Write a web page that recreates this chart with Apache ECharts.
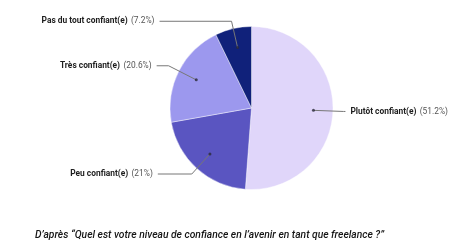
<!DOCTYPE html>
<html>
<head>
<meta charset="utf-8">
<script src="https://cdn.jsdelivr.net/npm/echarts@6/dist/echarts.min.js"></script>
<style>
html,body{margin:0;padding:0;background:#fff;}
#chart{width:460px;height:251px;}
</style>
</head>
<body>
<div id="chart"></div>
<script>
// Data
var categories = ['Plutôt confiant(e)', 'Peu confiant(e)', 'Très confiant(e)', 'Pas du tout confiant(e)'];
var values = [51.2, 21, 20.6, 7.2];
var colors = ['#e0d6fa', '#5a55c1', '#9c98ee', '#10217a'];
var caption = 'D\u2019après \u201CQuel est votre niveau de confiance en l\u2019avenir en tant que freelance ?\u201D';

// label line geometry (style only)
var lineLen1 = [30, 27, 31, 27];
var lineLen2 = [2, 34, 12, 72];

var CX = 251.5, CY = 108, R = 81.5, RDOT = 62;

var total = values.reduce(function (a, b) { return a + b; }, 0);
var cum = 0;
var dotData = values.map(function (v) {
  var mid = cum + v / 2;
  cum += v;
  return [RDOT, mid / total * 100];
});

var chart = echarts.init(document.getElementById('chart'), null, {renderer: 'canvas'});
chart.setOption({
  animation: false,
  backgroundColor: '#ffffff',
  title: {
    text: caption,
    left: 30,
    top: 225,
    textStyle: {fontFamily: 'Roboto', fontSize: 10.3, fontStyle: 'italic', fontWeight: 500, color: '#161616'}
  },
  polar: {center: [CX, CY], radius: R},
  angleAxis: {type: 'value', min: 0, max: 100, startAngle: 90, clockwise: true, show: false},
  radiusAxis: {type: 'value', min: 0, max: R, show: false},
  series: [
    {
      type: 'pie',
      center: [CX, CY],
      radius: R,
      startAngle: 90,
      clockwise: true,
      silent: true,
      label: {show: false},
      labelLine: {show: false},
      itemStyle: {borderColor: 'rgba(255,255,255,0.6)', borderWidth: 0.7},
      data: categories.map(function (c, i) {
        return {name: c, value: values[i], itemStyle: {color: colors[i]}};
      })
    },
    {
      type: 'pie',
      center: [CX, CY],
      radius: RDOT,
      startAngle: 90,
      clockwise: true,
      silent: true,
      avoidLabelOverlap: false,
      minShowLabelAngle: 0,
      z: 5,
      itemStyle: {color: 'rgba(0,0,0,0)'},
      label: {
        show: true,
        position: 'outside',
        alignTo: 'none',
        formatter: function (p) { return '{b|' + p.name + '} {p|(' + p.value + '%)}'; },
        rich: {
          b: {fontFamily: 'Roboto', fontSize: 8.4, fontWeight: 'bold', color: '#1e1e1e'},
          p: {fontFamily: 'Roboto', fontSize: 8.4, color: '#555'}
        }
      },
      labelLine: {show: true, smooth: false, lineStyle: {color: '#777', width: 1}},
      data: categories.map(function (c, i) {
        return {name: c, value: values[i], labelLine: {length: lineLen1[i], length2: lineLen2[i]}};
      })
    },
    {
      type: 'scatter',
      coordinateSystem: 'polar',
      symbolSize: 3,
      silent: true,
      z: 6,
      itemStyle: {color: '#2a2a3a'},
      data: dotData
    }
  ]
});
</script>
</body>
</html>
